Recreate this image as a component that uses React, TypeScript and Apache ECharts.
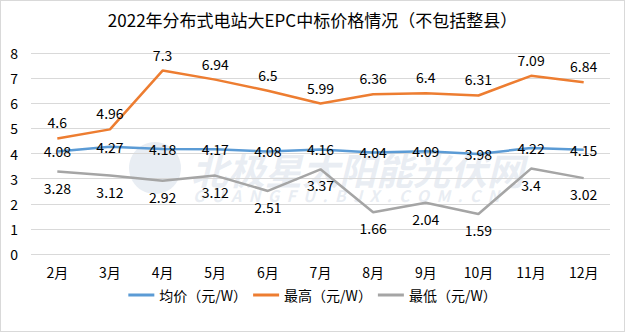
import React, { useEffect, useRef } from "react";
import * as echarts from "echarts";

const categories = ["2月", "3月", "4月", "5月", "6月", "7月", "8月", "9月", "10月", "11月", "12月"];
const avgValues = [4.08, 4.27, 4.18, 4.17, 4.08, 4.16, 4.04, 4.09, 3.98, 4.22, 4.15];
const maxValues = [4.6, 4.96, 7.3, 6.94, 6.5, 5.99, 6.36, 6.4, 6.31, 7.09, 6.84];
const minValues = [3.28, 3.12, 2.92, 3.12, 2.51, 3.37, 1.66, 2.04, 1.59, 3.4, 3.02];
const seriesNames = ["均价（元/W）", "最高（元/W）", "最低（元/W）"];

const FONT = "'Noto Sans CJK SC', sans-serif";
const WM = "rgba(205,215,228,0.45)";

export default function App() {
  const ref = useRef<HTMLDivElement>(null);
  useEffect(() => {
    if (!ref.current) return;
    const chart = echarts.init(ref.current, null, { renderer: "svg" });
    const labelStyle = { fontFamily: FONT, fontSize: 14, color: "#000" };
    const common = {
      type: "line",
      symbol: "circle",
      symbolSize: 0,
      showSymbol: true,
      z: 3,
    };
    chart.setOption({
      animation: false,
      backgroundColor: "#fff",
      textStyle: { fontFamily: FONT },
      title: {
        text: "2022年分布式电站大EPC中标价格情况（不包括整县）",
        left: "center",
        top: 5,
        textStyle: { fontFamily: FONT, fontSize: 17, fontWeight: "normal", color: "#000" },
      },
      graphic: [
        {
          type: "circle",
          z: 0,
          silent: true,
          shape: { cx: 154, cy: 167, r: 26 },
          style: { fill: WM },
        },
        {
          type: "text",
          left: 190,
          top: 149,
          z: 0,
          silent: true,
          style: {
            text: "北极星太阳能光伏网",
            fontFamily: FONT,
            fontSize: 37,
            lineHeight: 37,
            fontWeight: "bold",
            fontStyle: "italic",
            fill: WM,
          },
        },
        {
          type: "text",
          left: 192,
          top: 186,
          z: 0,
          silent: true,
          style: {
            text: "G  U  A  N  G  F  U  .  B  J  X  .  C  O  M  .  C  N",
            fontFamily: FONT,
            fontSize: 16,
            lineHeight: 16,
            fontWeight: "bold",
            fontStyle: "italic",
            fill: WM,
          },
        },
      ],
      legend: {
        data: seriesNames,
        bottom: 24,
        left: "center",
        itemWidth: 26,
        itemHeight: 3,
        itemGap: 6,
        icon: "rect",
        textStyle: { fontFamily: FONT, fontSize: 14, color: "#000" },
      },
      grid: { left: 30, right: 14, top: 52, bottom: 77, containLabel: false },
      xAxis: {
        type: "category",
        data: categories,
        boundaryGap: true,
        axisLine: { show: false },
        axisTick: { show: false },
        axisLabel: { fontFamily: FONT, fontSize: 14, color: "#000", margin: 11 },
      },
      yAxis: {
        type: "value",
        min: 0,
        max: 8,
        interval: 1,
        axisLine: { show: false },
        axisTick: { show: false },
        axisLabel: { fontFamily: FONT, fontSize: 14, color: "#000", margin: 13 },
        splitLine: { lineStyle: { color: "#D9D9D9", width: 1 } },
      },
      series: [
        {
          ...common,
          name: seriesNames[0],
          data: avgValues,
          lineStyle: { color: "#5B9BD5", width: 2.5 },
          itemStyle: { color: "#5B9BD5" },
          label: { show: true, position: "inside", ...labelStyle },
        },
        {
          ...common,
          name: seriesNames[1],
          data: maxValues,
          lineStyle: { color: "#ED7D31", width: 2.5 },
          itemStyle: { color: "#ED7D31" },
          label: { show: true, position: "top", distance: 9, ...labelStyle },
        },
        {
          ...common,
          name: seriesNames[2],
          data: minValues,
          lineStyle: { color: "#A5A5A5", width: 2.5 },
          itemStyle: { color: "#A5A5A5" },
          label: { show: true, position: "bottom", distance: 9, ...labelStyle },
        },
      ],
    });
    return () => chart.dispose();
  }, []);
  return (
    <div
      style={{
        position: "absolute",
        left: 0,
        top: 0,
        width: 625,
        height: 332,
        boxSizing: "border-box",
        border: "1px solid #D9D9D9",
      }}
    >
      <div ref={ref} style={{ width: 623, height: 330 }} />
    </div>
  );
}
